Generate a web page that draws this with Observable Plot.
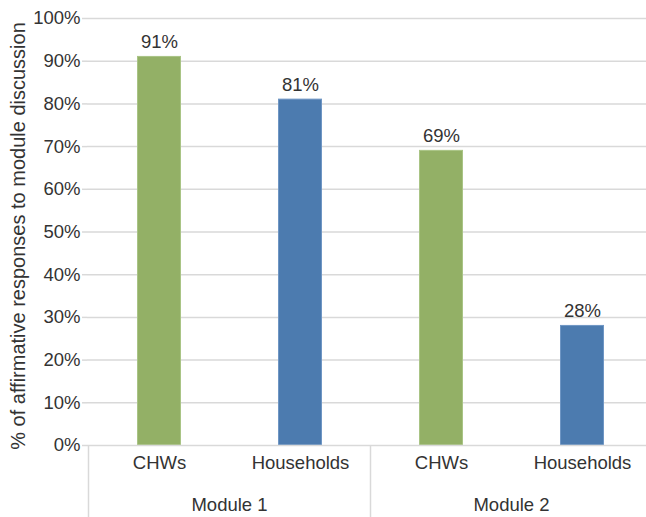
<!DOCTYPE html>
<html>
<head>
<meta charset="utf-8">
<script src="https://cdn.jsdelivr.net/npm/d3@7"></script>
<script src="https://cdn.jsdelivr.net/npm/@observablehq/plot@0.6"></script>
<style>
  html, body { margin: 0; padding: 0; background: #fff; }
  #chart svg { display: block; font-family: "Liberation Sans", Arial, Helvetica, sans-serif; }
</style>
</head>
<body>
<div id="chart"></div>
<script>
// Share of affirmative responses about discussing each module
const modules = ["Module 1", "Module 2"];
const groups = ["CHWs", "Households"];
const chwsValues = [91, 69];
const householdValues = [81, 28];
const yTicks = [0, 10, 20, 30, 40, 50, 60, 70, 80, 90, 100];
const yTitle = "% of affirmative responses to module discussion";
const groupColors = {"CHWs": "#93b066", "Households": "#4c7baf"};
const groupEdges = {"CHWs": "#a9c485", "Households": "#6f96c4"};

const rows = modules.flatMap((m, i) => [
  {module: m, group: groups[0], value: chwsValues[i]},
  {module: m, group: groups[1], value: householdValues[i]}
]).map(d => ({...d, key: d.module + "|" + d.group}));
const keys = rows.map(d => d.key);

const textColor = "#333";
const lineColor = "#d9d9d9";
const fontSize = 18.5;

const chart = Plot.plot({
  width: 646,
  height: 517,
  marginLeft: 87,
  marginTop: 18,
  marginBottom: 72,
  marginRight: 0,
  style: {fontFamily: "'Liberation Sans', Arial, Helvetica, sans-serif", fontSize: fontSize + "px", color: textColor, background: "#fff"},
  x: {domain: keys, range: [87, 653], paddingInner: 0.69, paddingOuter: 0.345, axis: null},
  y: {domain: [0, 100], ticks: yTicks, axis: null},
  marks: [
    Plot.gridY(yTicks.filter(t => t > 0), {stroke: lineColor, strokeOpacity: 1, strokeWidth: 1.5}),
    Plot.axisY(yTicks, {
      tickFormat: d => d + "%",
      tickSize: 5,
      tickPadding: 2,
      stroke: lineColor,
      strokeWidth: 1.5,
      fontSize,
      label: null
    }),
    Plot.text([yTitle], {
      frameAnchor: "left",
      textAnchor: "middle",
      rotate: -90,
      dx: -69,
      dy: 4,
      fontSize: 20,
      fill: textColor,
      text: d => d
    }),
    Plot.barY(rows, {
      x: "key",
      y: "value",
      fill: d => groupColors[d.group],
      stroke: d => groupEdges[d.group],
      strokeWidth: 1,
      insetLeft: 0.5,
      insetRight: 0.5
    }),
    Plot.ruleY([0], {stroke: lineColor, strokeWidth: 1.5}),
    Plot.text(rows, {
      x: "key",
      y: "value",
      text: d => d.value + "%",
      lineAnchor: "bottom",
      dy: -9,
      fontSize,
      fill: textColor
    }),
    Plot.text(rows, {
      x: "key",
      text: "group",
      frameAnchor: "bottom",
      lineAnchor: "middle",
      dy: 18,
      fontSize,
      fill: textColor
    })
  ]
});

// Second axis row: module names and the separators between modules,
// positioned from the chart's own x scale.
const xs = chart.scale("x");
const xAt = k => xs.apply(k);
const step = xs.step ?? (xAt(keys[1]) - xAt(keys[0]));
const bw = xs.bandwidth ?? 0;
const svg = d3.select(chart);
const yBase = 517 - 72;
const edges = new Set();
const axisRow = svg.append("g");
modules.forEach(m => {
  const ks = keys.filter(k => k.startsWith(m + "|"));
  const left = xAt(ks[0]) + bw / 2 - step / 2;
  const right = xAt(ks[ks.length - 1]) + bw / 2 + step / 2;
  edges.add(Math.round(left * 10) / 10);
  edges.add(Math.round(right * 10) / 10);
  axisRow.append("text")
    .attr("x", (left + right) / 2)
    .attr("y", yBase + 60)
    .attr("text-anchor", "middle")
    .attr("dy", "0.35em")
    .attr("fill", textColor)
    .attr("font-size", fontSize)
    .text(m);
});
edges.forEach(e => {
  axisRow.append("line")
    .attr("x1", e).attr("x2", e)
    .attr("y1", yBase).attr("y2", 517)
    .attr("stroke", lineColor)
    .attr("stroke-width", 1.5);
});

document.getElementById("chart").appendChild(chart);
</script>
</body>
</html>
